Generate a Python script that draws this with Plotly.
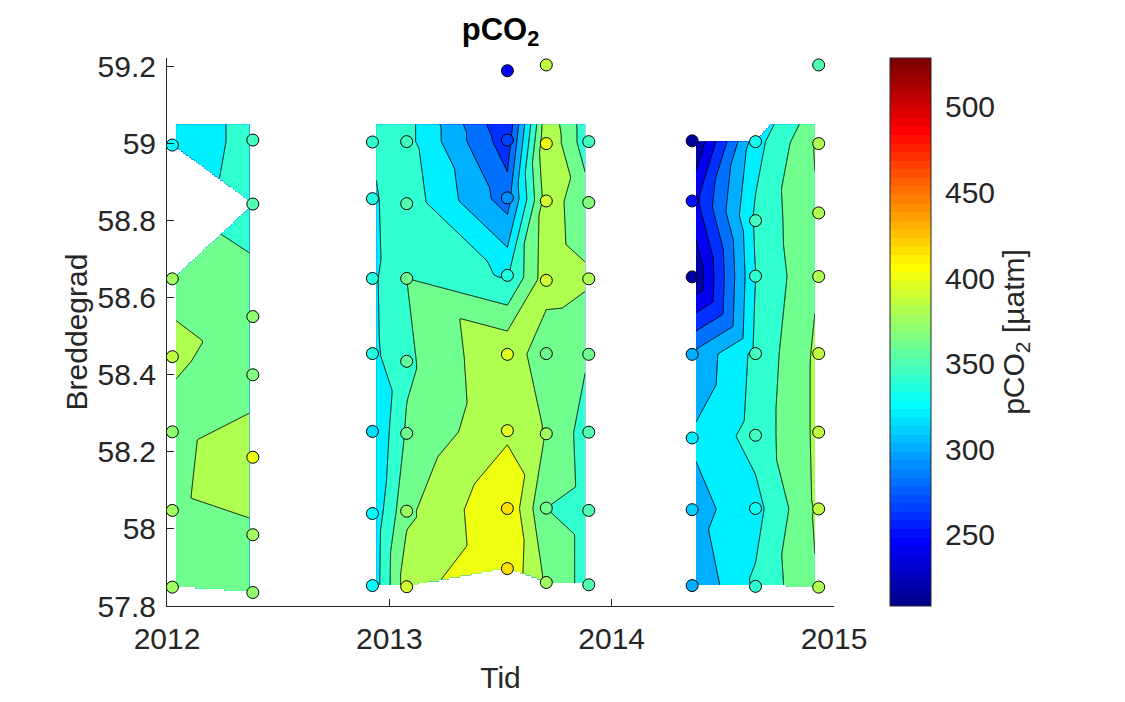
import numpy as np
import plotly.graph_objects as go

NAN = float("nan")

# ---------------- data (time in decimal years, latitude in deg N, pCO2 in uatm) ----------------
t2012 = [2012.024, 2012.386]
lat2012 = [[57.849, 58.048, 58.252, 58.447, 58.649, 58.850, 58.996],
           [57.835, 57.985, 58.186, 58.400, 58.551, 58.843, 59.009]]
pco2_2012 = [[377, 374, 371, 385, 375, NAN, 326],
             [370, 375, 400, 364, 372, 350, 347]]

t2013 = [2012.924, 2013.078, 2013.531, 2013.706, 2013.897]
lat2013 = [[57.853, 58.040, 58.253, 58.455, 58.650, 58.857, 59.004],
           [57.850, 58.046, 58.248, 58.435, 58.650, 58.844, 59.005],
           [57.897, 58.053, 58.255, 58.453, 58.658, 58.859, 59.009, 59.189],
           [57.861, 58.054, 58.247, 58.455, 58.645, 58.851, 59.000, 59.204],
           [57.855, 58.048, 58.251, 58.453, 58.649, 58.847, 59.005]]
pco2_2013 = [[326, 324, 318, 335, 336, 337, 341],
             [392, 376, 363, 356, 360, 352, 347],
             [416, 418, 396, 398, 337, 290, 268, 242],
             [376, 360, 378, 362, 392, 390, 399, 385],
             [352, 352, 350, 360, 383, 366, 345]]

t2014 = [2014.362, 2014.647, 2014.931]
lat2014 = [[57.853, 58.050, 58.236, 58.453, 58.654, 58.851, 59.007],
           [57.851, 58.053, 58.243, 58.455, 58.656, 58.800, 59.005],
           [57.849, 58.052, 58.251, 58.455, 58.655, 58.820, 59.000, 59.204]]
pco2_2014 = [[302, 312, 322, 303, 218, 250, 216],
             [343, 333, 348, 345, 340, 344, 332],
             [381, 384, 385, 385, 380, 381, 383, 352]]

sections = [(t2012, lat2012, pco2_2012, True),
            (t2013, lat2013, pco2_2013, True),
            (t2014, lat2014, pco2_2014, False)]

x_ticks = [2012, 2013, 2014, 2015]
y_ticks = [57.8, 58.0, 58.2, 58.4, 58.6, 58.8, 59.0, 59.2]
y_ticktext = ["57.8", "58", "58.2", "58.4", "58.6", "58.8", "59", "59.2"]
cbar_ticks = [250, 300, 350, 400, 450, 500]

CMIN, CMAX = 208.5, 528.5
LEV_START, LEV_END, LEV_STEP = 200, 520, 20
GRID_TOP = 59.05

# ---------------- colormap (MATLAB jet, 64 steps) ----------------
def jet64(i):
    r = 0 if i <= 24 else (i - 24) / 16 if i <= 40 else 1 if i <= 56 else 1 - (i - 56) / 16
    g = 0 if i <= 8 else (i - 8) / 16 if i <= 24 else 1 if i <= 40 else 1 - (i - 40) / 16 if i <= 56 else 0
    b = (i + 8) / 16 if i <= 8 else 1 if i <= 24 else 1 - (i - 24) / 16 if i <= 40 else 0
    return "rgb(%d,%d,%d)" % (round(255 * r), round(255 * g), round(255 * b))

def row_of(v):
    idx = int(np.floor((v - CMIN) / (CMAX - CMIN) * 64)) + 1
    return min(64, max(1, idx))

jet_steps = []
for i in range(64):
    c = jet64(i + 1)
    jet_steps.append([i / 64, c])
    jet_steps.append([(i + 1) / 64, c])

nc = int(round((LEV_END - LEV_START) / LEV_STEP)) + 1
band_scale = [[0.0, jet64(row_of(LEV_START - 1))]]
for b in range(1, nc + 1):
    band_scale.append([b / nc, jet64(row_of(LEV_START + LEV_STEP * (b - 1)))])

# ---------------- linear interpolation on a strip triangulation ----------------
def strip_triangles(A, B):
    tris = []
    i = j = 0
    while i < len(A) - 1 or j < len(B) - 1:
        if i == len(A) - 1 or (j < len(B) - 1 and B[j + 1][1] <= A[i + 1][1]):
            tris.append((A[i], B[j], B[j + 1]))
            j += 1
        else:
            tris.append((A[i], A[i + 1], B[j]))
            i += 1
    return tris

def rasterize(tris, gx, gy):
    X, Y = np.meshgrid(gx, gy)
    Z = np.full(X.shape, np.nan)
    for p1, p2, p3 in tris:
        (x1, y1, v1), (x2, y2, v2), (x3, y3, v3) = p1, p2, p3
        det = (y2 - y3) * (x1 - x3) + (x3 - x2) * (y1 - y3)
        if abs(det) < 1e-12:
            continue
        l1 = ((y2 - y3) * (X - x3) + (x3 - x2) * (Y - y3)) / det
        l2 = ((y3 - y1) * (X - x3) + (x1 - x3) * (Y - y3)) / det
        l3 = 1 - l1 - l2
        inside = (l1 >= -1e-9) & (l2 >= -1e-9) & (l3 >= -1e-9)
        val = l1 * v1 + l2 * v2 + l3 * v3
        ok = inside & ~np.isnan(val)
        Z[ok] = val[ok]
    return Z

fig = go.Figure()

all_t, all_lat, all_v = [], [], []
for times, lats, vals, extend in sections:
    cols = []
    for t, la, va in zip(times, lats, vals):
        nodes = sorted(zip([t] * len(la), la, va), key=lambda n: n[1])
        if extend and nodes[-1][1] < GRID_TOP:
            nodes.append((t, GRID_TOP + 0.01, nodes[-1][2]))
        cols.append(nodes)
        for y, v in zip(la, va):
            if not np.isnan(v):
                all_t.append(t); all_lat.append(y); all_v.append(v)
    tris = []
    for a, b in zip(cols[:-1], cols[1:]):
        tris += strip_triangles(a, b)
    gx = np.arange(times[0] + 0.017, times[-1] - 0.015 + 1e-9, 0.005)
    gy = np.arange(57.80, GRID_TOP + 1e-9, 0.005)
    Z = np.round(rasterize(tris, gx, gy), 2)
    fig.add_trace(go.Contour(
        x=np.round(gx, 4), y=np.round(gy, 4), z=Z,
        autocontour=False,
        contours=dict(start=LEV_START, end=LEV_END, size=LEV_STEP, coloring="fill", showlines=True),
        line=dict(color="black", width=1, smoothing=0),
        colorscale=band_scale, showscale=False, connectgaps=False,
        hoverinfo="skip"))

FONT = "Liberation Sans, Arial, Helvetica, sans-serif"
TXT = "#262626"

fig.add_trace(go.Scatter(
    x=all_t, y=all_lat, mode="markers",
    marker=dict(size=12, color=all_v, colorscale=jet_steps, cmin=CMIN, cmax=CMAX,
                line=dict(color="black", width=1),
                showscale=True,
                colorbar=dict(x=1.069, xanchor="left", y=0.5, yanchor="middle",
                              len=1, lenmode="fraction", ypad=0, xpad=10,
                              thickness=41, thicknessmode="pixels",
                              outlinewidth=1, outlinecolor=TXT,
                              ticks="outside", ticklen=8, tickcolor="rgba(0,0,0,0)",
                              tickvals=cbar_ticks,
                              tickfont=dict(family=FONT, size=30, color=TXT),
                              title=dict(text="pCO<sub>2</sub> [µatm]", side="right",
                                         font=dict(family=FONT, size=30, color=TXT)))),
    showlegend=False, hoverinfo="skip"))

# the page body has an 8 px default margin; margins below compensate for it
fig.update_layout(
    width=1125, height=702,
    margin=dict(l=159, r=299, t=50, b=104),
    paper_bgcolor="white", plot_bgcolor="white",
    font=dict(family=FONT, size=30, color=TXT),
    title=dict(text="<b>pCO<sub>2</sub></b>", x=0.5, xref="paper", xanchor="center",
               y=0.97, yref="container", yanchor="middle",
               font=dict(family=FONT, size=31, color="black")),
    xaxis=dict(range=[2012, 2015], tickvals=x_ticks, ticktext=[str(v) for v in x_ticks],
               showgrid=False, zeroline=False, showline=True, linecolor=TXT, linewidth=1,
               ticks="inside", ticklen=7, tickcolor=TXT, mirror=False,
               ticklabelstandoff=6,
               tickfont=dict(family=FONT, size=30, color=TXT),
               title=dict(text="Tid", standoff=12, font=dict(family=FONT, size=30, color=TXT))),
    yaxis=dict(range=[57.8, 59.222], tickvals=y_ticks, ticktext=y_ticktext,
               showgrid=False, zeroline=False, showline=True, linecolor=TXT, linewidth=1,
               ticks="inside", ticklen=7, tickcolor=TXT, mirror=False,
               ticklabelstandoff=4,
               tickfont=dict(family=FONT, size=30, color=TXT),
               title=dict(text="Breddegrad", standoff=1, font=dict(family=FONT, size=30, color=TXT))),
)

fig.write_html("out.html")
